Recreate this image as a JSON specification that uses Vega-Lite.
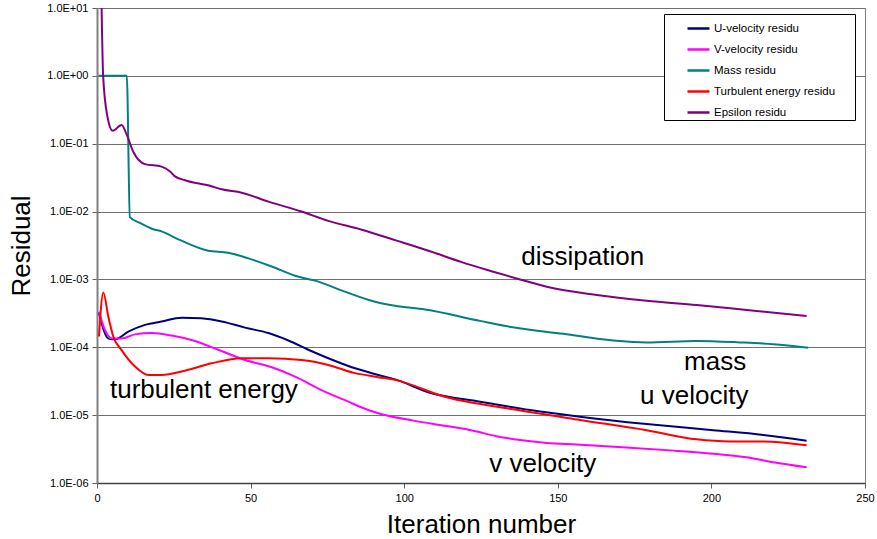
{
  "$schema": "https://vega.github.io/schema/vega-lite/v6.json",
  "width": 768,
  "height": 475,
  "autosize": {"type": "none"},
  "padding": {"left": 97, "top": 8, "right": 12, "bottom": 56},
  "background": "white",
  "config": {
    "font": "Liberation Sans",
    "view": {"stroke": "#808080", "strokeWidth": 1}
  },
  "datasets": {
    "series": [
      {"s": "U-velocity residu", "it": 0.65, "r": 0.00032},
      {"s": "U-velocity residu", "it": 3.7, "r": 0.000135},
      {"s": "U-velocity residu", "it": 5.9, "r": 0.000131},
      {"s": "U-velocity residu", "it": 10.2, "r": 0.00017},
      {"s": "U-velocity residu", "it": 15.6, "r": 0.000214},
      {"s": "U-velocity residu", "it": 21, "r": 0.00024},
      {"s": "U-velocity residu", "it": 27.6, "r": 0.000273},
      {"s": "U-velocity residu", "it": 34, "r": 0.000267},
      {"s": "U-velocity residu", "it": 40.6, "r": 0.00024},
      {"s": "U-velocity residu", "it": 48.2, "r": 0.000195},
      {"s": "U-velocity residu", "it": 55.8, "r": 0.000162},
      {"s": "U-velocity residu", "it": 62.3, "r": 0.000126},
      {"s": "U-velocity residu", "it": 68.8, "r": 0.000092},
      {"s": "U-velocity residu", "it": 75.3, "r": 0.000069},
      {"s": "U-velocity residu", "it": 84, "r": 0.000049},
      {"s": "U-velocity residu", "it": 91.6, "r": 0.0000391},
      {"s": "U-velocity residu", "it": 97, "r": 0.0000337},
      {"s": "U-velocity residu", "it": 108.4, "r": 0.0000214},
      {"s": "U-velocity residu", "it": 124.7, "r": 0.0000158},
      {"s": "U-velocity residu", "it": 141, "r": 0.0000119},
      {"s": "U-velocity residu", "it": 157.2, "r": 0.0000095},
      {"s": "U-velocity residu", "it": 178.9, "r": 0.0000074},
      {"s": "U-velocity residu", "it": 200.6, "r": 0.000006},
      {"s": "U-velocity residu", "it": 216.9, "r": 0.0000051},
      {"s": "U-velocity residu", "it": 231, "r": 0.0000042},

      {"s": "V-velocity residu", "it": 0.65, "r": 0.000335},
      {"s": "V-velocity residu", "it": 2.6, "r": 0.00018},
      {"s": "V-velocity residu", "it": 4.8, "r": 0.000135},
      {"s": "V-velocity residu", "it": 8, "r": 0.000135},
      {"s": "V-velocity residu", "it": 12.4, "r": 0.000155},
      {"s": "V-velocity residu", "it": 17.8, "r": 0.000162},
      {"s": "V-velocity residu", "it": 24.3, "r": 0.000149},
      {"s": "V-velocity residu", "it": 31.9, "r": 0.000124},
      {"s": "V-velocity residu", "it": 39.5, "r": 0.000092},
      {"s": "V-velocity residu", "it": 48.2, "r": 0.000065},
      {"s": "V-velocity residu", "it": 56.9, "r": 0.0000507},
      {"s": "V-velocity residu", "it": 64.5, "r": 0.000037},
      {"s": "V-velocity residu", "it": 73.1, "r": 0.0000234},
      {"s": "V-velocity residu", "it": 81.8, "r": 0.0000158},
      {"s": "V-velocity residu", "it": 88.3, "r": 0.0000119},
      {"s": "V-velocity residu", "it": 92.1, "r": 0.0000105},
      {"s": "V-velocity residu", "it": 103, "r": 0.0000083},
      {"s": "V-velocity residu", "it": 113.8, "r": 0.0000069},
      {"s": "V-velocity residu", "it": 122.5, "r": 0.0000059},
      {"s": "V-velocity residu", "it": 130, "r": 0.0000049},
      {"s": "V-velocity residu", "it": 137.7, "r": 0.0000043},
      {"s": "V-velocity residu", "it": 146.4, "r": 0.0000039},
      {"s": "V-velocity residu", "it": 156.1, "r": 0.0000037},
      {"s": "V-velocity residu", "it": 169.6, "r": 0.0000034},
      {"s": "V-velocity residu", "it": 187.8, "r": 0.000003},
      {"s": "V-velocity residu", "it": 200.6, "r": 0.0000027},
      {"s": "V-velocity residu", "it": 211.5, "r": 0.0000024},
      {"s": "V-velocity residu", "it": 220.7, "r": 0.000002},
      {"s": "V-velocity residu", "it": 231, "r": 0.0000017},

      {"s": "Mass residu", "it": 0.5, "r": 1},
      {"s": "Mass residu", "it": 9.7, "r": 1},
      {"s": "Mass residu", "it": 10.7, "r": 0.0083},
      {"s": "Mass residu", "it": 14, "r": 0.0068},
      {"s": "Mass residu", "it": 18.3, "r": 0.0055},
      {"s": "Mass residu", "it": 21, "r": 0.0051},
      {"s": "Mass residu", "it": 26.5, "r": 0.0039},
      {"s": "Mass residu", "it": 36.2, "r": 0.00265},
      {"s": "Mass residu", "it": 42.7, "r": 0.00248},
      {"s": "Mass residu", "it": 49.3, "r": 0.00204},
      {"s": "Mass residu", "it": 56.9, "r": 0.00155},
      {"s": "Mass residu", "it": 64.5, "r": 0.00113},
      {"s": "Mass residu", "it": 71, "r": 0.00096},
      {"s": "Mass residu", "it": 80.7, "r": 0.00066},
      {"s": "Mass residu", "it": 90.5, "r": 0.00047},
      {"s": "Mass residu", "it": 97, "r": 0.00041},
      {"s": "Mass residu", "it": 106.8, "r": 0.00036},
      {"s": "Mass residu", "it": 124.7, "r": 0.000245},
      {"s": "Mass residu", "it": 135.4, "r": 0.000197},
      {"s": "Mass residu", "it": 151.8, "r": 0.000158},
      {"s": "Mass residu", "it": 168, "r": 0.000126},
      {"s": "Mass residu", "it": 178.9, "r": 0.000118},
      {"s": "Mass residu", "it": 195.2, "r": 0.000124},
      {"s": "Mass residu", "it": 209.3, "r": 0.000118},
      {"s": "Mass residu", "it": 220.2, "r": 0.000111},
      {"s": "Mass residu", "it": 231.5, "r": 0.0000986},

      {"s": "Turbulent energy residu", "it": 0.65, "r": 0.000144},
      {"s": "Turbulent energy residu", "it": 2.05, "r": 0.00064},
      {"s": "Turbulent energy residu", "it": 3.7, "r": 0.00028},
      {"s": "Turbulent energy residu", "it": 5.3, "r": 0.000144},
      {"s": "Turbulent energy residu", "it": 8, "r": 0.000091},
      {"s": "Turbulent energy residu", "it": 12.4, "r": 0.000052},
      {"s": "Turbulent energy residu", "it": 16.7, "r": 0.0000391},
      {"s": "Turbulent energy residu", "it": 21, "r": 0.0000391},
      {"s": "Turbulent energy residu", "it": 28.6, "r": 0.0000452},
      {"s": "Turbulent energy residu", "it": 37.3, "r": 0.000058},
      {"s": "Turbulent energy residu", "it": 47.1, "r": 0.000069},
      {"s": "Turbulent energy residu", "it": 55.8, "r": 0.000069},
      {"s": "Turbulent energy residu", "it": 66.6, "r": 0.000065},
      {"s": "Turbulent energy residu", "it": 75.3, "r": 0.000055},
      {"s": "Turbulent energy residu", "it": 84, "r": 0.0000416},
      {"s": "Turbulent energy residu", "it": 91.6, "r": 0.0000363},
      {"s": "Turbulent energy residu", "it": 97, "r": 0.0000331},
      {"s": "Turbulent energy residu", "it": 113.8, "r": 0.0000183},
      {"s": "Turbulent energy residu", "it": 135.5, "r": 0.0000122},
      {"s": "Turbulent energy residu", "it": 157.2, "r": 0.0000085},
      {"s": "Turbulent energy residu", "it": 178.9, "r": 0.000006},
      {"s": "Turbulent energy residu", "it": 195.2, "r": 0.0000044},
      {"s": "Turbulent energy residu", "it": 206, "r": 0.0000041},
      {"s": "Turbulent energy residu", "it": 216.9, "r": 0.0000041},
      {"s": "Turbulent energy residu", "it": 231, "r": 0.0000036},

      {"s": "Epsilon residu", "it": 1.5, "r": 10},
      {"s": "Epsilon residu", "it": 2, "r": 1.0},
      {"s": "Epsilon residu", "it": 3.4, "r": 0.25},
      {"s": "Epsilon residu", "it": 5.1, "r": 0.155},
      {"s": "Epsilon residu", "it": 8, "r": 0.189},
      {"s": "Epsilon residu", "it": 9.7, "r": 0.135},
      {"s": "Epsilon residu", "it": 11.8, "r": 0.076},
      {"s": "Epsilon residu", "it": 15.6, "r": 0.05},
      {"s": "Epsilon residu", "it": 21, "r": 0.046},
      {"s": "Epsilon residu", "it": 23.8, "r": 0.039},
      {"s": "Epsilon residu", "it": 25.4, "r": 0.033},
      {"s": "Epsilon residu", "it": 28.6, "r": 0.029},
      {"s": "Epsilon residu", "it": 36.8, "r": 0.024},
      {"s": "Epsilon residu", "it": 40.6, "r": 0.0213},
      {"s": "Epsilon residu", "it": 47.1, "r": 0.019},
      {"s": "Epsilon residu", "it": 55.8, "r": 0.014},
      {"s": "Epsilon residu", "it": 66.6, "r": 0.01},
      {"s": "Epsilon residu", "it": 75.3, "r": 0.0073},
      {"s": "Epsilon residu", "it": 86.2, "r": 0.0054},
      {"s": "Epsilon residu", "it": 97, "r": 0.0038},
      {"s": "Epsilon residu", "it": 107.9, "r": 0.00265},
      {"s": "Epsilon residu", "it": 118.7, "r": 0.0018},
      {"s": "Epsilon residu", "it": 129, "r": 0.0013},
      {"s": "Epsilon residu", "it": 137.7, "r": 0.001},
      {"s": "Epsilon residu", "it": 146.4, "r": 0.00078},
      {"s": "Epsilon residu", "it": 162.7, "r": 0.00059},
      {"s": "Epsilon residu", "it": 178.9, "r": 0.000486},
      {"s": "Epsilon residu", "it": 195.2, "r": 0.00042},
      {"s": "Epsilon residu", "it": 211.5, "r": 0.000355},
      {"s": "Epsilon residu", "it": 231, "r": 0.000289}
    ],
    "notes": [
      {"label": "dissipation", "it": 158.1, "r": 0.00163},
      {"label": "mass", "it": 201.2, "r": 0.0000462},
      {"label": "u velocity", "it": 194.4, "r": 0.00001445},
      {"label": "v velocity", "it": 145.1, "r": 0.00000147},
      {"label": "turbulent energy", "it": 34.8, "r": 0.0000177}
    ]
  },
  "layer": [
    {
      "data": {"name": "series"},
      "mark": {"type": "line", "strokeWidth": 2, "interpolate": "monotone", "clip": true},
      "encoding": {
        "x": {
          "field": "it", "type": "quantitative",
          "scale": {"domain": [0, 250], "nice": false},
          "axis": {
            "title": "Iteration number", "titleFontSize": 26, "titleFontWeight": "normal", "titleColor": "black",
            "titlePadding": 8,
            "values": [0, 50, 100, 150, 200, 250], "grid": false, "labelFlush": false,
            "labelFontSize": 11, "labelColor": "black", "labelPadding": 4,
            "tickSize": 5, "tickColor": "#606060", "domainColor": "#404040", "domainWidth": 1.5
          }
        },
        "y": {
          "field": "r", "type": "quantitative",
          "scale": {"type": "log", "domain": [0.000001, 10], "nice": false},
          "axis": {
            "title": "Residual", "titleFontSize": 26, "titleFontWeight": "normal", "titleColor": "black",
            "titlePadding": 12, "labelFlush": false,
            "values": [0.000001, 0.00001, 0.0001, 0.001, 0.01, 0.1, 1, 10],
            "labelExpr": "'1.0E' + (datum.value >= 1 ? '+' : '-') + (abs(round(log(datum.value)/LN10)) < 10 ? '0' : '') + toString(abs(round(log(datum.value)/LN10)))",
            "labelFontSize": 11, "labelColor": "black", "labelPadding": 4,
            "grid": true, "gridColor": "#707070", "gridWidth": 1, "gridOpacity": 1,
            "tickSize": 5, "tickColor": "#606060", "domainColor": "#808080", "domainWidth": 2
          }
        },
        "color": {
          "field": "s", "type": "nominal",
          "scale": {
            "domain": ["U-velocity residu", "V-velocity residu", "Mass residu", "Turbulent energy residu", "Epsilon residu"],
            "range": ["#000080", "#FF00FF", "#008080", "#FF0000", "#800080"]
          },
          "legend": {
            "title": "\u00a0", "titleOrient": "right", "titlePadding": 18, "titleFontSize": 11,
            "orient": "none", "legendX": 567, "legendY": 6,
            "fillColor": "white", "strokeColor": "black", "padding": 2,
            "symbolType": "stroke", "symbolSize": 484, "symbolStrokeWidth": 2.5, "symbolOffset": 20,
            "labelFontSize": 11.5, "labelColor": "black", "labelOffset": 3, "rowPadding": 3,
            "labelLimit": 250
          }
        }
      }
    },
    {
      "data": {"name": "notes"},
      "mark": {"type": "text", "fontSize": 26, "align": "center", "baseline": "alphabetic", "color": "black"},
      "encoding": {
        "x": {"field": "it", "type": "quantitative"},
        "y": {"field": "r", "type": "quantitative"},
        "text": {"field": "label"}
      }
    }
  ]
}
